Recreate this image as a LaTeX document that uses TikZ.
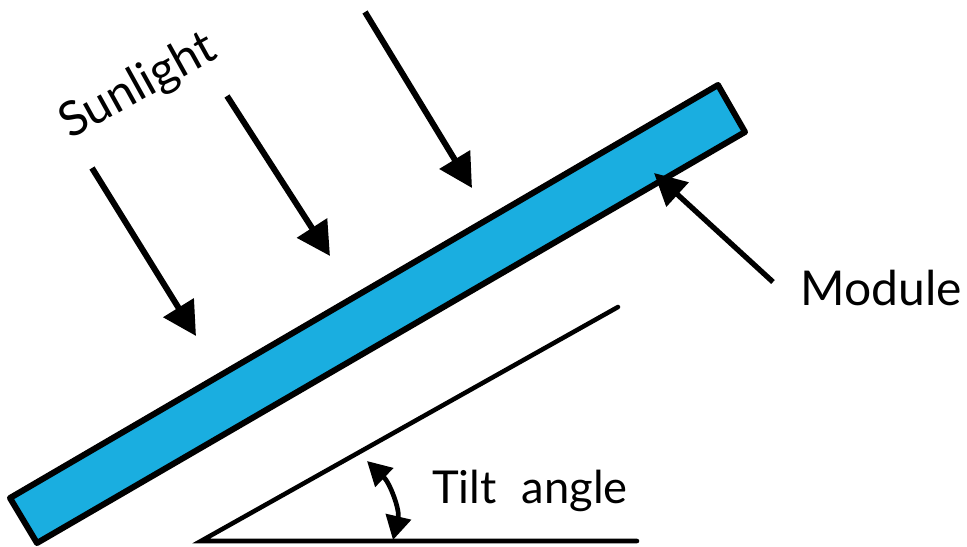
\documentclass[tikz,border=0pt]{standalone}
\usepackage{fontspec}
\setmainfont{Lato}
\usetikzlibrary{arrows.meta}
\definecolor{panelblue}{RGB}{26,174,224}
\tikzset{
  ray/.style={line width=4.5pt, -{Triangle[length=25pt,width=26pt]}},
  frame/.style={line width=3.4pt, line cap=round},
  lbl/.style={inner sep=0pt, font=\fontsize{36}{40}\selectfont},
}
\begin{document}
\begin{tikzpicture}[x=0.75pt,y=-0.75pt]
\useasboundingbox (0,0) rectangle (967,546);
% module bar
\coordinate (A) at (10,498);
\coordinate (B) at (718,85);
\coordinate (C) at (745,132);
\coordinate (D) at (37,543);
\filldraw[fill=panelblue, line width=4.5pt, line join=round] (A) -- (B) -- (C) -- (D) -- cycle;
% sunlight rays
\coordinate (s1) at (92,168);  \coordinate (e1) at (196,336);
\coordinate (s2) at (227,96);  \coordinate (e2) at (330,256);
\coordinate (s3) at (365,12);  \coordinate (e3) at (472,188);
\draw[ray] (s1) -- (e1);
\draw[ray] (s2) -- (e2);
\draw[ray] (s3) -- (e3);
\node[lbl, anchor=base west, rotate=29] (sun) at (70,140) {Sunlight};
% module pointer
\coordinate (ms) at (773,282);
\coordinate (me) at (654,173);
\draw[line width=4pt, -{Triangle[length=24pt,width=24pt]}] (ms) -- (me);
\node[lbl, anchor=base west] (mod) at (800,305) {Module};
% ground triangle
\coordinate (O) at (201,541);
\coordinate (H) at (618,307);
\coordinate (E) at (637,541);
\draw[frame] (H) -- (O) -- (E);
% tilt angle arc
\coordinate (t1) at (367,461);
\coordinate (t2) at (393,540);
\draw[line width=3.5pt, {Triangle[length=18pt,width=19pt]}-{Triangle[length=18pt,width=19pt]}] (t1) .. controls (390,483) and (400,510) .. (t2);
\node[lbl, anchor=base west, font=\fontsize{34}{38}\selectfont] (tilt) at (432,503) {Tilt\hspace{0.55em}angle};
\end{tikzpicture}
\end{document}
